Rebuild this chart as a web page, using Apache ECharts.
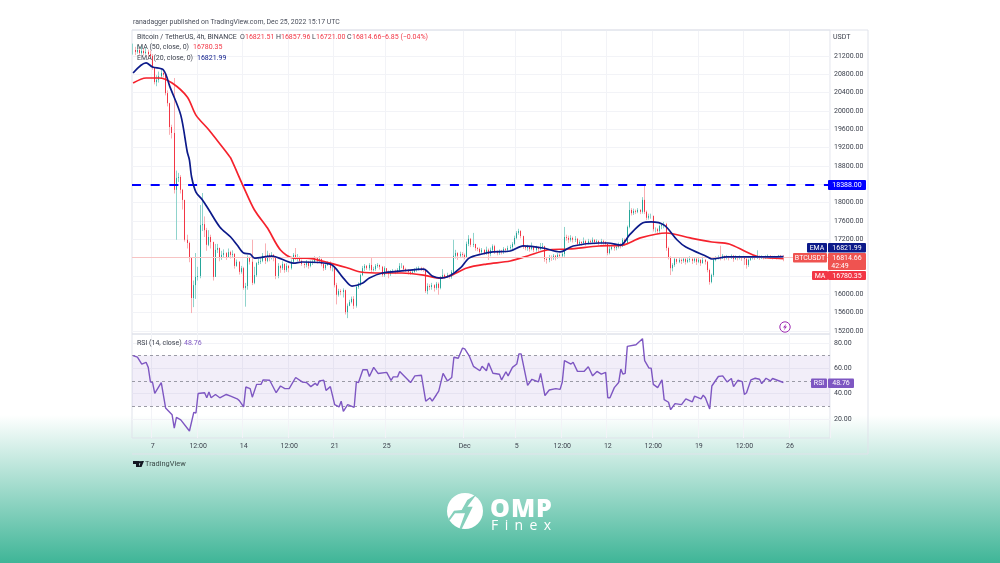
<!DOCTYPE html>
<html>
<head>
<meta charset="utf-8">
<title>BTCUSDT</title>
<script src="https://cdn.jsdelivr.net/npm/echarts@6/dist/echarts.min.js"></script>
<style>
  html, body { margin: 0; padding: 0; width: 1000px; height: 563px; overflow: hidden; }
  body { background: linear-gradient(#ffffff 0, #ffffff 415px, #3fb597 563px); position: relative; }
  #chart { position: absolute; left: 0; top: 0; width: 1000px; height: 563px; }
  .brand { position: absolute; color: #fff; font-family: "Open Sans", sans-serif; white-space: nowrap; }
</style>
</head>
<body>
<div id="chart"></div>
<div class="brand" style="left:490px;top:491px;font-size:25px;line-height:32px;font-weight:800;letter-spacing:1px">OMP</div>
<div class="brand" style="left:491px;top:516px;font-size:14px;line-height:18px;letter-spacing:6.4px">Finex</div>
<script>
// 4h bars, 10 per row. opens are taken from the previous close
const closes = [
  21330,21290,21330,21265,21310,21265,21290,21240,21200,20940,
  20630,20680,20760,20830,20790,20390,20170,19650,19520,18280,
  18540,18560,18280,18060,17190,17120,16790,15920,16200,16380,
  16400,17510,17530,17400,17080,17250,17140,16380,16970,17010,
  16790,16860,16900,16810,16920,16860,16880,16620,16710,16490,
  16570,16140,16180,16790,16710,16250,16420,16680,16710,16730,
  16840,16730,16860,16790,16860,16790,16400,16620,16570,16660,
  16530,16620,16570,16710,16860,16790,16790,16730,16660,16640,
  16710,16620,16680,16710,16790,16730,16770,16660,16570,16640,
  16680,16570,16570,16200,15990,16070,16050,16090,15610,15750,
  15830,15900,15750,16160,16230,16420,16570,16620,16570,16640,
  16530,16550,16620,16640,16600,16420,16570,16490,16440,16490,
  16510,16490,16530,16620,16620,16550,16530,16490,16470,16490,
  16530,16550,16570,16550,16530,16070,16180,16160,16200,16140,
  16230,16140,16360,16420,16380,16420,16380,16490,16840,16900,
  16840,16880,16860,16810,17100,17210,17080,17100,17010,16990,
  16920,16970,16900,16970,16880,16970,17050,16920,16900,16950,
  16920,16990,16970,17010,17030,17100,17230,17340,17380,17270,
  17030,17010,17030,16990,17030,16970,17010,16990,17030,17050,
  16770,16750,16810,16790,16840,16790,16860,16840,16880,17250,
  17230,17190,17230,17190,17210,17100,17140,17120,17160,17120,
  17160,17140,17190,17140,17160,17120,17160,17140,17100,16900,
  16990,17030,17010,17030,17080,17050,17190,17120,17470,17840,
  17770,17820,17800,17840,17800,18060,17800,17670,17710,17710,
  17420,17420,17380,17490,17510,17530,17010,16810,16570,16640,
  16770,16710,16750,16730,16770,16710,16750,16770,16730,16770,
  16710,16750,16680,16750,16710,16530,16270,16420,16750,16790,
  16810,16790,16840,16790,16810,16790,16840,16770,16810,16790,
  16810,16790,16770,16640,16750,16790,16810,16790,16840,16790,
  16810,16790,16810,16840,16810,16790,16810,16790,16840,16821.51,
  16814.66
];
const highs = [
  21470,21400,21440,21380,21420,21370,21380,21340,21320,21240,
  20940,20780,20860,20900,20880,20800,20450,20180,19700,20720,
  18700,18650,18600,18300,18060,17300,17150,16800,16300,16900,
  16600,17950,18210,17700,17450,17400,17300,17150,17100,17100,
  17020,16950,16980,16920,17000,16950,16960,16900,16760,16720,
  16620,16600,16250,16850,16820,17190,16600,16700,16780,16800,
  16900,17110,16950,16900,16920,16880,16800,16680,16640,16720,
  16680,16680,16640,16760,16900,17010,16880,16830,16760,16700,
  16750,16720,16740,16750,16830,16810,16830,16780,16680,16680,
  16720,16720,16620,16590,16250,16120,16110,16130,16100,15800,
  15880,15950,15960,16200,16260,16450,16620,16660,16640,16680,
  16790,16600,16660,16680,16650,16620,16610,16560,16520,16530,
  16550,16540,16570,16680,16680,16640,16580,16550,16520,16530,
  16570,16600,16610,16600,16590,16560,16240,16220,16250,16220,
  16270,16260,16400,16550,16450,16470,16440,16530,17190,16970,
  16920,16930,16920,16890,17150,17290,17230,17340,17060,17030,
  17020,17010,16980,17040,17000,17020,17090,17080,16960,16980,
  16970,17030,17010,17060,17080,17140,17280,17380,17430,17400,
  17280,17060,17080,17050,17130,17040,17060,17040,17120,17120,
  17060,16800,16860,16850,16880,16860,16900,16890,16930,17470,
  17300,17280,17290,17260,17270,17230,17180,17160,17240,17190,
  17210,17190,17240,17200,17200,17180,17210,17190,17160,17110,
  17050,17070,17060,17080,17130,17120,17230,17220,17500,18020,
  17880,17870,17850,17880,17860,18120,18388,17830,17760,17760,
  17720,17460,17450,17520,17550,17580,17560,17040,16830,16680,
  16800,16780,16790,16780,16810,16790,16790,16830,16790,16810,
  16800,16790,16770,16820,16770,16730,16560,16450,16780,16830,
  16850,17060,16880,16840,16860,16840,16870,16860,16850,16830,
  16850,16830,16810,16800,16780,16820,16850,16830,16960,16840,
  16850,16830,16850,16870,16850,16840,16840,16830,16860,16860,
  16857.96
];
const lows = [
  21230,21220,21250,21220,21230,21210,21230,21180,21130,20900,
  20580,20540,20620,20720,20730,20340,20100,19480,19400,18200,
  17190,18450,18200,17850,17150,17000,16700,15590,15720,15900,
  16300,16350,17380,17250,16950,17050,17000,16300,16400,16900,
  16720,16750,16800,16750,16800,16780,16790,16560,16600,16430,
  16450,16100,15730,16100,16650,16200,16220,16380,16640,16660,
  16700,16660,16700,16720,16760,16720,16330,16350,16470,16530,
  16470,16490,16480,16540,16680,16750,16720,16680,16620,16570,
  16590,16560,16590,16640,16680,16670,16690,16610,16510,16530,
  16620,16520,16500,16150,15780,15950,15980,15930,15560,15480,
  15740,15800,15680,15710,16120,16180,16400,16510,16530,16520,
  16480,16500,16510,16580,16540,16380,16380,16440,16350,16400,
  16460,16440,16460,16490,16570,16500,16490,16430,16420,16440,
  16470,16490,16520,16510,16490,16030,16000,16090,16100,16060,
  16100,15990,16110,16340,16340,16360,16340,16340,16460,16780,
  16750,16790,16800,16760,16790,17050,17030,17030,16950,16940,
  16880,16880,16860,16860,16750,16830,16930,16880,16850,16860,
  16870,16880,16910,16920,16970,16990,17070,17200,17300,17220,
  16990,16960,16950,16930,16960,16920,16930,16930,16960,16990,
  16710,16670,16700,16730,16750,16740,16780,16790,16810,16820,
  17170,17120,17150,17130,17140,17050,17070,17060,17090,17060,
  17090,17090,17120,17090,17100,17070,17090,17080,17050,16850,
  16870,16960,16950,16960,17000,17000,17030,17060,17110,17440,
  17720,17730,17750,17770,17750,17760,17750,17620,17630,17650,
  17370,17350,17320,17340,17420,17440,16950,16760,16420,16500,
  16600,16660,16680,16660,16690,16650,16680,16700,16660,16690,
  16640,16680,16620,16670,16650,16480,16210,16240,16380,16720,
  16760,16740,16770,16740,16760,16740,16770,16710,16750,16740,
  16760,16730,16640,16560,16600,16730,16760,16750,16770,16750,
  16770,16760,16770,16790,16770,16760,16770,16760,16780,16780,
  16721.00
];

const emaBars = [0,6,9,14,17,22,25,26,27,29,32,35,40,45,48,51,54,56,64,74,78,91,97,101,106,109,115,124,134,138,142,146,151,155,161,166,174,180,189,197,203,215,219,225,229,235,239,245,251,255,265,267,274,290,300];
const emaValues = [20830,21050,20960,20895,20525,19910,19105,18930,18560,18230,18060,17840,17470,17250,17075,16900,16880,16790,16835,16680,16705,16660,16355,16180,16245,16355,16465,16510,16550,16400,16355,16400,16575,16790,16880,16925,16945,17055,17010,16925,17055,17120,17120,17075,17295,17555,17580,17510,17185,17030,16815,16770,16815,16815,16821.99];
const maBars = [0,6,12,18,25,29,35,44,45,51,56,62,68,74,80,91,99,105,115,124,134,141,146,154,163,174,182,191,201,215,226,234,246,257,267,275,283,289,300];
const maValues = [20610,20720,20720,20610,20305,19910,19585,19040,18975,18340,17840,17445,16967,16790,16790,16680,16575,16487,16465,16465,16420,16355,16400,16575,16660,16727,16836,16967,16989,17054,17075,17230,17338,17230,17142,17098,16923,16814,16780.35];

const rsiBars = [0,2,4,6,7,8,9,10,13,15,18,19,20,22,26,28,29,30,33,34,35,36,38,40,43,45,48,49,51,52,54,55,57,59,60,63,66,68,70,72,75,78,80,82,84,85,86,88,89,91,93,95,96,97,99,102,103,104,106,108,109,111,113,117,119,120,122,123,128,130,133,135,137,138,140,141,143,145,147,148,150,152,153,155,157,160,161,163,164,166,169,170,172,173,175,177,178,179,182,184,187,188,190,192,195,197,198,199,202,203,205,208,210,212,214,216,218,219,220,222,224,225,226,227,228,232,235,236,238,239,240,242,244,245,247,248,250,253,255,258,259,262,263,264,266,267,270,272,274,276,277,279,281,282,283,285,287,289,290,292,294,295,300];
const rsiValues = [70,68.7,63.3,64.7,60.7,49.2,48.7,40.1,48.7,28.7,23.3,12.7,21.2,19.3,10.5,25.2,24.7,40.1,40.7,36.7,41.2,36.7,39.3,36.7,39.3,38,35.9,34.5,29.5,45.2,43.9,37.2,47.3,47.3,50.8,50.5,40.7,46,43.9,43.9,52.7,49.2,48.7,45.5,48.1,46.5,50,50.5,42.5,45.5,31.3,29.5,34,26,31.3,29.2,49.2,48.7,58.8,58.8,53.5,60.7,55.9,56.7,50.5,53.2,53.2,57.5,48.7,54,54.5,34,36.7,34,39.3,42,55.9,50,52.7,68.7,67.9,75.9,75.3,70,61.5,58,61.5,58,64.1,56.1,55.3,50.8,57.2,54,60.7,63.3,71.3,71.3,46.5,51.3,49.2,55.9,38.5,42.8,43.9,43.3,49.2,66,63.3,64.7,57.5,57.5,61.2,54,57.5,55.3,56.7,36.7,36.7,44.7,48.7,59.3,55.3,55.9,77.2,78.5,83.3,66,60.1,60.1,47.3,44.7,50.8,35.3,33.2,27.3,32.1,31.3,35.9,33.5,38,35.9,38.8,36.7,27.9,46,53.5,54,49.2,51.9,45.5,50.5,49.5,39.3,40.7,50.8,52.1,51.3,47.9,52.1,50,51.9,48.76];

const priceTicks = [15200,15600,16000,16400,16800,17200,17600,18000,18400,18800,19200,19600,20000,20400,20800,21200];
const shownPriceTicks = priceTicks.filter(v => v !== 16400 && v !== 16800 && v !== 18400);
const rsiTicks = [20,40,60,80];
const tickBars = [9,30,51,72,93,117,153,177,198,219,240,261,282,303];
const tickLabels = ['7','12:00','14','12:00','21','25','Dec','5','12:00','12','12:00','19','12:00','26'];
const resistance = 18388;
const lastPrice = 16814.66;

const barSlots = 322;
const categories = [];
for (let i = 0; i < barSlots; i++) {
  const t = tickBars.indexOf(i);
  categories.push(t >= 0 ? tickLabels[t] : String(i));
}
const isTick = i => tickBars.indexOf(i) >= 0;
const pairs = (bars, values) => bars.map((b, i) => [b, values[i]]);
const opens = closes.map((c, i) => (i === 0 ? c : closes[i - 1]));
// wicks are drawn pale and the bodies solid on top, so they go in two series
const wicks = closes.map((c, i) => [opens[i], c, lows[i], highs[i]]);
const bodies = closes.map((c, i) => [opens[i], c, Math.min(opens[i], c), Math.max(opens[i], c)]);

const FONT = 'Roboto';
const INK = '#3a3f4b';
const RED = '#f23645';
const NAVY = '#0c1a8a';
const PURPLE = '#7e57c2';
const GRIDLINE = '#f2f3f7';
const FRAME = '#e0e3eb';

function txt(x, y, text, color, size, align) {
  return { type: 'text', x: x, y: y, silent: true, z: 20,
    style: { text: text, fill: color, font: (size || 7) + 'px ' + FONT, align: align || 'left', verticalAlign: 'middle' } };
}
function box(x, y, w, h, fill) {
  return { type: 'rect', silent: true, z: 19, shape: { x: x, y: y, width: w, height: h, r: 1 }, style: { fill: fill } };
}
function tag(x, y, w, h, fill, text) {
  return [box(x, y, w, h, fill), txt(x + w / 2, y + h / 2 + 0.3, text, '#fff', 7, 'center')];
}
function hline(x1, y, x2, color) {
  return { type: 'line', silent: true, z: 1, shape: { x1: x1, y1: y, x2: x2, y2: y }, style: { stroke: color, lineWidth: 1 } };
}
function vline(x, y1, y2, color) {
  return { type: 'line', silent: true, z: 1, shape: { x1: x, y1: y1, x2: x, y2: y2 }, style: { stroke: color, lineWidth: 1 } };
}
function poly(points, fill) {
  return { type: 'polygon', silent: true, z: 21, shape: { points: points }, style: { fill: fill } };
}

const overlay = [
  txt(133, 22, 'ranadagger published on TradingView.com, Dec 25, 2022 15:17 UTC', '#4a4f5c', 6.9),
  txt(137, 37, 'Bitcoin / TetherUS, 4h, BINANCE', INK),
  txt(240, 37, 'O', INK), txt(245, 37, '16821.51', RED),
  txt(276, 37, 'H', INK), txt(281, 37, '16857.96', RED),
  txt(312, 37, 'L', INK), txt(316, 37, '16721.00', RED),
  txt(347, 37, 'C', INK), txt(352, 37, '16814.66', RED),
  txt(381, 37, '−6.85 (−0.04%)', RED),
  txt(137, 47, 'MA (50, close, 0)', INK), txt(193, 47, '16780.35', RED),
  txt(137, 58, 'EMA (20, close, 0)', INK), txt(197, 58, '16821.99', NAVY),
  txt(137, 343, 'RSI (14, close)', INK), txt(184, 343, '48.76', PURPLE),
  txt(833, 37, 'USDT', INK),
  vline(868, 30, 454, FRAME), hline(132, 30, 868, FRAME), hline(132, 454, 868, FRAME),
  ...tag(828, 180, 38, 10, '#0000ff', '18388.00'),
  ...tag(807, 243, 20, 9.5, NAVY, 'EMA'),
  ...tag(828, 243, 38, 9.5, NAVY, '16821.99'),
  ...tag(793, 253, 34, 9.5, '#ef5350', 'BTCUSDT'),
  box(828, 253, 38, 17, '#ef5350'),
  txt(847, 258, '16814.66', '#fff', 7, 'center'),
  txt(840, 266, '42:49', '#fff', 7, 'center'),
  ...tag(812, 271, 16, 9, RED, 'MA'),
  ...tag(828, 271, 38, 9, RED, '16780.35'),
  ...tag(811, 378.5, 16, 9.5, PURPLE, 'RSI'),
  ...tag(828, 378.5, 26, 9.5, PURPLE, '48.76'),
  // lightning badge
  { type: 'circle', silent: true, z: 20, shape: { cx: 785, cy: 327, r: 5.2 }, style: { fill: '#fff', stroke: '#9c27b0', lineWidth: 1 } },
  poly([[786.5, 323.5], [783, 327.6], [785, 327.6], [783.7, 330.5], [787, 326.4], [785, 326.4]], '#9c27b0'),
  // TradingView mark
  poly([[133, 461], [139, 461], [139, 467], [136, 467], [136, 464], [133, 464]], '#131722'),
  { type: 'circle', silent: true, z: 21, shape: { cx: 140, cy: 462.3, r: 1.2 }, style: { fill: '#131722' } },
  poly([[141.3, 461], [144, 461], [141.5, 467], [138.8, 467]], '#131722'),
  txt(145, 464, 'TradingView', '#3a4a48', 7.4),
  // OMP Finex mark
  { type: 'circle', silent: true, z: 20, shape: { cx: 465, cy: 511, r: 18 }, style: { fill: '#fff' } },
  poly([[476.7, 494], [467.3, 506.7], [472.7, 506.7], [461.7, 529], [459.3, 529], [465, 513.3], [455, 513.3], [450, 520], [447.7, 520], [454, 510.7], [461.7, 510], [467.3, 500]], '#86d0bc')
];

const chart = echarts.init(document.getElementById('chart'), null, { renderer: 'canvas' });
chart.setOption({
  animation: false,
  backgroundColor: 'transparent',
  textStyle: { fontFamily: FONT },
  graphic: { elements: overlay },
  grid: [
    { left: 132, top: 30, width: 698, height: 304, show: true, borderColor: FRAME, borderWidth: 1, backgroundColor: 'transparent' },
    { left: 132, top: 334, width: 698, height: 104, show: true, borderColor: FRAME, borderWidth: 1, backgroundColor: 'transparent' }
  ],
  xAxis: [0, 1].map(g => ({
    type: 'category',
    gridIndex: g,
    data: categories,
    axisLine: { show: false },
    axisTick: { show: false, alignWithLabel: true, interval: i => isTick(i) },
    splitLine: { show: true, interval: i => isTick(i), lineStyle: { color: GRIDLINE, width: 1 } },
    axisLabel: {
      show: g === 1, interval: i => isTick(i), color: INK, fontSize: 7, fontFamily: FONT, margin: 5,
      hideOverlap: false
    }
  })),
  yAxis: [
    {
      type: 'value', gridIndex: 0, position: 'right', min: 15134, max: 21767, scale: true,
      axisLine: { show: false },
      axisTick: { show: false, customValues: priceTicks },
      splitLine: { show: true, lineStyle: { color: GRIDLINE, width: 1 } },
      axisLabel: { customValues: shownPriceTicks, color: INK, fontSize: 7, fontFamily: FONT, margin: 4,
        showMinLabel: true, showMaxLabel: true, formatter: v => v.toFixed(2) }
    },
    {
      type: 'value', gridIndex: 1, position: 'right', min: 5, max: 87, scale: true,
      axisLine: { show: false },
      axisTick: { show: false, customValues: rsiTicks },
      splitLine: { show: true, lineStyle: { color: GRIDLINE, width: 1 } },
      axisLabel: { customValues: rsiTicks, color: INK, fontSize: 7, fontFamily: FONT, margin: 4,
        formatter: v => v.toFixed(2) }
    }
  ],
  series: [
    {
      type: 'candlestick', name: 'wicks', xAxisIndex: 0, yAxisIndex: 0, data: wicks,
      barWidth: 1, silent: true, z: 3,
      itemStyle: { color: '#8fd3cc', color0: '#f9b0b4', borderColor: '#8fd3cc', borderColor0: '#f9b0b4', borderWidth: 1 },
      markLine: {
        silent: true, symbol: 'none', animation: false, label: { show: false },
        data: [
          { yAxis: lastPrice, lineStyle: { color: '#f7c4c4', type: 'solid', width: 1 } },
          { yAxis: resistance, lineStyle: { color: '#0000ff', type: [9, 9.7], width: 2 } }
        ]
      }
    },
    {
      type: 'candlestick', name: 'BTCUSDT', xAxisIndex: 0, yAxisIndex: 0, data: bodies,
      barWidth: 1, silent: true, z: 3,
      itemStyle: { color: '#26a69a', color0: '#f23645', borderColor: '#26a69a', borderColor0: '#f23645', borderWidth: 1 }
    },
    {
      type: 'line', name: 'MA', xAxisIndex: 0, yAxisIndex: 0, data: pairs(maBars, maValues),
      showSymbol: false, silent: true, smooth: 0.3, z: 4,
      lineStyle: { color: '#f5222d', width: 1.7 }
    },
    {
      type: 'line', name: 'EMA', xAxisIndex: 0, yAxisIndex: 0, data: pairs(emaBars, emaValues),
      showSymbol: false, silent: true, smooth: 0.3, z: 5,
      lineStyle: { color: NAVY, width: 1.7 }
    },
    {
      type: 'line', name: 'RSI', xAxisIndex: 1, yAxisIndex: 1, data: pairs(rsiBars, rsiValues),
      showSymbol: false, silent: true, z: 5,
      lineStyle: { color: PURPLE, width: 1.4 },
      markArea: {
        silent: true,
        itemStyle: { color: 'rgba(126,87,194,0.1)' },
        data: [[{ yAxis: 70 }, { yAxis: 30 }]]
      },
      markLine: {
        silent: true, symbol: 'none', animation: false, label: { show: false },
        lineStyle: { color: '#9b9ba6', type: [3, 3], width: 1 },
        data: [{ yAxis: 70 }, { yAxis: 50 }, { yAxis: 30 }]
      }
    }
  ]
});
</script>
</body>
</html>
